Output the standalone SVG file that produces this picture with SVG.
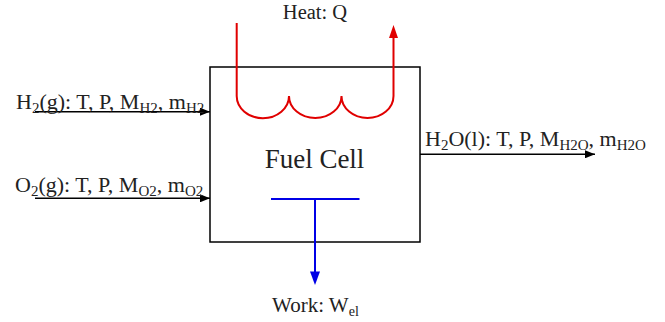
<svg xmlns="http://www.w3.org/2000/svg" width="665" height="322" viewBox="0 0 665 322">
  <style>
    .lbl { font-family: "Liberation Serif", "Times New Roman", serif; font-size: 21px; fill: #222; }
    .side { font-size: 22px; }
    .sub { font-size: 14px; }
    .side .sub { font-size: 15px; }
    .blk { stroke: #000; stroke-width: 1.5; fill: none; }
  </style>
  <defs>
    <marker id="ab" viewBox="0 0 10 8" refX="10" refY="4" markerWidth="10" markerHeight="8" markerUnits="userSpaceOnUse" orient="auto">
      <path d="M0,0 L10,4 L0,8 Z" fill="#000"/>
    </marker>
  </defs>
  <rect width="665" height="322" fill="#fff"/>

  <g id="fuel-cell">
    <rect x="210" y="67" width="210" height="175" fill="#fff" stroke="#000" stroke-width="1.5"/>
    <text x="314.5" y="168" text-anchor="middle" font-family="Liberation Serif, Times New Roman, serif" font-size="27" fill="#222">Fuel Cell</text>
  </g>

  <g id="connectors">
    <line class="blk" x1="35" y1="111.7" x2="210" y2="111.7" marker-end="url(#ab)"/>
    <line class="blk" x1="35" y1="198.3" x2="210" y2="198.3" marker-end="url(#ab)"/>
    <line class="blk" x1="420" y1="154.3" x2="595" y2="154.3" marker-end="url(#ab)"/>
    <g id="heat-coil">
      <path d="M236.7,23 V96 A26,22 0 0 0 289,96 A26.2,22 0 0 0 341.5,96 A26,22 0 0 0 393.5,96 V37" fill="none" stroke="#e00000" stroke-width="2"/>
      <polygon points="393.5,25 398,38 389,38" fill="#e00000"/>
    </g>
    <g id="work-t">
      <line x1="271" y1="199" x2="359.5" y2="199" stroke="#0000e6" stroke-width="2"/>
      <line x1="315" y1="199" x2="315" y2="273" stroke="#0000e6" stroke-width="2"/>
      <polygon points="315,285 310,271.5 320,271.5" fill="#0000e6"/>
    </g>
  </g>

  <g id="label-h2">
    <text class="lbl side" x="16" y="108.5">H<tspan class="sub" dy="4">2</tspan><tspan dy="-4">(g): T, P, M</tspan><tspan class="sub" dy="4">H2</tspan><tspan dy="-4">, m</tspan><tspan class="sub" dy="4">H2</tspan></text>
  </g>
  <g id="label-o2">
    <text class="lbl side" x="15" y="192">O<tspan class="sub" dy="4">2</tspan><tspan dy="-4">(g): T, P, M</tspan><tspan class="sub" dy="4">O2</tspan><tspan dy="-4">, m</tspan><tspan class="sub" dy="4">O2</tspan></text>
  </g>
  <g id="label-h2o">
    <text class="lbl side" x="425" y="146">H<tspan class="sub" dy="4">2</tspan><tspan dy="-4">O(l): T, P, M</tspan><tspan class="sub" dy="4">H2O</tspan><tspan dy="-4">, m</tspan><tspan class="sub" dy="4">H2O</tspan></text>
  </g>
  <g id="label-heat">
    <text class="lbl" x="315" y="19" text-anchor="middle" style="font-size:20.5px">Heat: Q</text>
  </g>
  <g id="label-work">
    <text class="lbl" x="272" y="312">Work: W<tspan class="sub" dy="4">el</tspan></text>
  </g>
</svg>
